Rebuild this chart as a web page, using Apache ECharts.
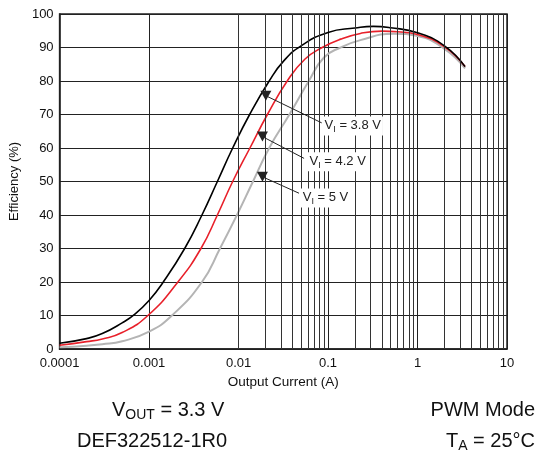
<!DOCTYPE html>
<html>
<head>
<meta charset="utf-8">
<script src="https://cdn.jsdelivr.net/npm/echarts@6/dist/echarts.min.js"></script>
<style>
html,body{margin:0;padding:0;background:#fff;}
#c{width:545px;height:454px;}
</style>
</head>
<body>
<div id="c"></div>
<script>
// Output current (A) and efficiency (%) per input voltage
const i38 = [0.0001,0.0002,0.0003,0.0005,0.0007,0.001,0.0014,0.0025,0.0039,0.0058,0.0086,0.0133,0.022,0.032,0.05,0.1,0.2,0.32,0.5,1,2,3.4];
const e38 = [1.7,3.1,4.6,7.8,10.5,14.5,19.5,30,40,50,60,70,80,86,90.5,94.5,95.8,96.3,95.9,94.4,90.5,84.3];
const i42 = [0.0001,0.0002,0.0003,0.0005,0.00097,0.0021,0.0038,0.0058,0.0086,0.0134,0.021,0.035,0.055,0.086,0.138,0.23,0.4,0.6,1,2,3.4];
const e42 = [1.1,2.2,3.0,4.9,10,20,30,40,50,60,70,80,86.5,90,92.5,94.2,94.9,94.7,93.9,90.2,84.3];
const i50 = [0.0001,0.0002,0.0003,0.0005,0.001,0.0018,0.0039,0.0062,0.0096,0.0145,0.022,0.037,0.061,0.09,0.138,0.23,0.54,1,2,3.4];
const e50 = [0.5,1.0,1.4,2.3,5.2,10,20,30,40,50,60,70,80,87,90,92.2,94.1,93.4,89.6,83.8];
const seriesNames = ['VI = 3.8 V','VI = 4.2 V','VI = 5 V'];
const seriesColors = ['#000000','#e8202a','#b4b4b4'];
const minorGrid = [];
[0.0001,0.001,0.01,0.1,1].forEach(d => { for (let k = 2; k <= 9; k++) minorGrid.push(+(k*d).toPrecision(2)); });
// annotation anchors (data coordinates)
const annTip = [[0.0202,75.6],[0.0185,63.4],[0.0185,51.4]];
const annEnd = [[0.085,67.5],[0.054,56.9],[0.0474,46.5]];
const annLabelPos = [[0.087,66.6],[0.0589,55.9],[0.0495,45.1]];
const annText = ['3.8 V','4.2 V','5 V'];

function pairs(xs, ys){ return xs.map((x,i)=>[x, ys[i]]); }

const chart = echarts.init(document.getElementById('c'), null, {renderer:'canvas'});
const FONT = 'Liberation Sans, Arial, sans-serif';

const annSeries = {
  type:'line', data:[], silent:true, z:5,
  markLine:{
    silent:true, symbol:['none','none'], animation:false,
    lineStyle:{color:'#222', width:1, type:'solid'},
    label:{show:false},
    data: annTip.map((t,i)=>[{coord:t},{coord:annEnd[i]}])
  },
  markPoint:{
    silent:true, animation:false,
    data: annTip.map(t=>({coord:t, symbol:'triangle', symbolSize:[11,10], symbolRotate:180, itemStyle:{color:'#222'}, label:{show:false}}))
      .concat(annLabelPos.map((p,i)=>({coord:p, symbol:'rect', symbolSize:0,
        label:{show:true, position:'right', distance:0, backgroundColor:'#fff', padding:[1,2,1,2],
          formatter:'V{s|I} = '+annText[i], color:'#222', fontSize:13, fontFamily:FONT,
          rich:{s:{fontSize:9, verticalAlign:'bottom', padding:[8,0,0,0], color:'#222', fontFamily:FONT}}}})))
  }
};

const minorSeries = {
  type:'line', data:[], silent:true, z:1,
  markLine:{
    silent:true, symbol:['none','none'], animation:false,
    lineStyle:{color:'#333', width:1, type:'solid'},
    label:{show:false},
    data: minorGrid.map(v=>({xAxis:v}))
  }
};

const curveCommon = {type:'line', smooth:0.5, showSymbol:false, z:3};

chart.setOption({
  animation:false,
  backgroundColor:'#fff',
  grid:{left:58, top:14, right:38, bottom:105, show:true, borderColor:'#222', borderWidth:1.5, backgroundColor:'transparent'},
  xAxis:{
    type:'log', logBase:10, min:0.0001, max:10,
    name:'Output Current (A)', nameLocation:'middle', nameGap:25,
    nameTextStyle:{color:'#111', fontSize:13.5, fontFamily:FONT},
    axisLine:{show:true, lineStyle:{color:'#222', width:1.5}},
    axisTick:{show:false},
    axisLabel:{color:'#111', fontSize:13, fontFamily:FONT, margin:8, formatter:v=>String(v)},
    splitLine:{show:true, lineStyle:{color:'#222', width:1}},
    minorTick:{show:false}, minorSplitLine:{show:false}
  },
  yAxis:{
    type:'value', min:0, max:100, interval:10,
    name:'Efficiency (%)', nameLocation:'middle', nameGap:29, nameRotate:90,
    nameTextStyle:{color:'#111', fontSize:13, fontFamily:FONT},
    axisLine:{show:true, lineStyle:{color:'#222', width:1.5}},
    axisTick:{show:false},
    axisLabel:{color:'#111', fontSize:13, fontFamily:FONT, margin:6},
    splitLine:{show:true, lineStyle:{color:'#222', width:1}}
  },
  series:[
    minorSeries,
    Object.assign({name:seriesNames[2], data:pairs(i50,e50), lineStyle:{color:seriesColors[2], width:2}}, curveCommon),
    Object.assign({name:seriesNames[1], data:pairs(i42,e42), lineStyle:{color:seriesColors[1], width:1.6}}, curveCommon),
    Object.assign({name:seriesNames[0], data:pairs(i38,e38), lineStyle:{color:seriesColors[0], width:1.6}}, curveCommon),
    annSeries
  ],
  graphic:[
    {type:'text', left:112, top:400, style:{text:'V{s|OUT} = 3.3 V', font:'20px '+FONT, fill:'#111',
      rich:{s:{fontSize:14, fontFamily:FONT, fill:'#111', padding:[10,0,0,0]}}}},
    {type:'text', left:77, top:431, style:{text:'DEF322512-1R0', font:'20px '+FONT, fill:'#111'}},
    {type:'text', right:10, top:400, style:{text:'PWM Mode', font:'20px '+FONT, fill:'#111'}},
    {type:'text', right:10, top:431, style:{text:'T{s|A} = 25°C', font:'20px '+FONT, fill:'#111',
      rich:{s:{fontSize:14, fontFamily:FONT, fill:'#111', padding:[10,0,0,0]}}}}
  ]
});
</script>
</body>
</html>
